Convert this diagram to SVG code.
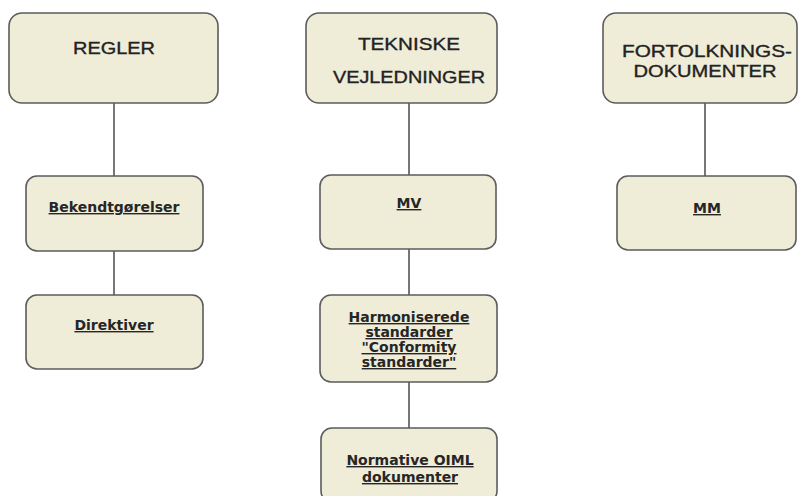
<svg xmlns="http://www.w3.org/2000/svg" width="800" height="496" viewBox="0 0 800 496">
<style>
.box{fill:#EFECD8;stroke:#5c5c5c;stroke-width:1.6}
.conn{stroke:#555;stroke-width:1.6;fill:none}
.title{font-family:"Liberation Sans",Arial,sans-serif;font-size:17px;fill:#222;stroke:#222;stroke-width:0.35;text-anchor:middle}
.lbl{font-family:"DejaVu Sans",Verdana,sans-serif;font-weight:bold;font-size:14px;fill:#262626;text-anchor:middle;text-decoration:underline}
</style>
<rect width="800" height="496" fill="#fff"/>
<g id="connectors">
<line class="conn" x1="114" y1="103" x2="114" y2="176"/>
<line class="conn" x1="114" y1="251" x2="114" y2="295"/>
<line class="conn" x1="409" y1="103" x2="409" y2="175"/>
<line class="conn" x1="409" y1="249" x2="409" y2="295"/>
<line class="conn" x1="409" y1="382" x2="409" y2="428"/>
<line class="conn" x1="705" y1="103" x2="705" y2="176"/>
</g>
<g id="regler">
<rect class="box" x="9" y="13" width="209" height="90" rx="13"/>
<text class="title" x="114" y="54" textLength="82" lengthAdjust="spacingAndGlyphs">REGLER</text>
</g>
<g id="tekniske">
<rect class="box" x="306" y="13" width="191" height="90" rx="13"/>
<text class="title" x="409" y="50" textLength="102" lengthAdjust="spacingAndGlyphs">TEKNISKE</text>
<text class="title" x="409" y="83" textLength="152" lengthAdjust="spacingAndGlyphs">VEJLEDNINGER</text>
</g>
<g id="fortolkning">
<rect class="box" x="603" y="13" width="194" height="90" rx="13"/>
<text class="title" x="707" y="57" textLength="170" lengthAdjust="spacingAndGlyphs">FORTOLKNINGS-</text>
<text class="title" x="705" y="77" textLength="143" lengthAdjust="spacingAndGlyphs">DOKUMENTER</text>
</g>
<g id="bekendtgorelser">
<rect class="box" x="26" y="176" width="177" height="75" rx="11"/>
<text class="lbl" x="114" y="212">Bekendtgørelser</text>
</g>
<g id="direktiver">
<rect class="box" x="26" y="295" width="177" height="74" rx="11"/>
<text class="lbl" x="114" y="330">Direktiver</text>
</g>
<g id="mv">
<rect class="box" x="320" y="175" width="176" height="74" rx="11"/>
<text class="lbl" x="409" y="208">MV</text>
</g>
<g id="harmoniserede">
<rect class="box" x="320" y="295" width="177" height="87" rx="11"/>
<text class="lbl" x="409" y="322">Harmoniserede</text>
<text class="lbl" x="409" y="337">standarder</text>
<text class="lbl" x="409" y="352">"Conformity</text>
<text class="lbl" x="409" y="367">standarder"</text>
</g>
<g id="normative">
<rect class="box" x="321" y="428" width="176" height="74" rx="11"/>
<text class="lbl" x="410" y="465">Normative OIML</text>
<text class="lbl" x="410" y="482">dokumenter</text>
</g>
<g id="mm">
<rect class="box" x="617" y="176" width="179" height="74" rx="11"/>
<text class="lbl" x="707" y="213">MM</text>
</g>
</svg>
